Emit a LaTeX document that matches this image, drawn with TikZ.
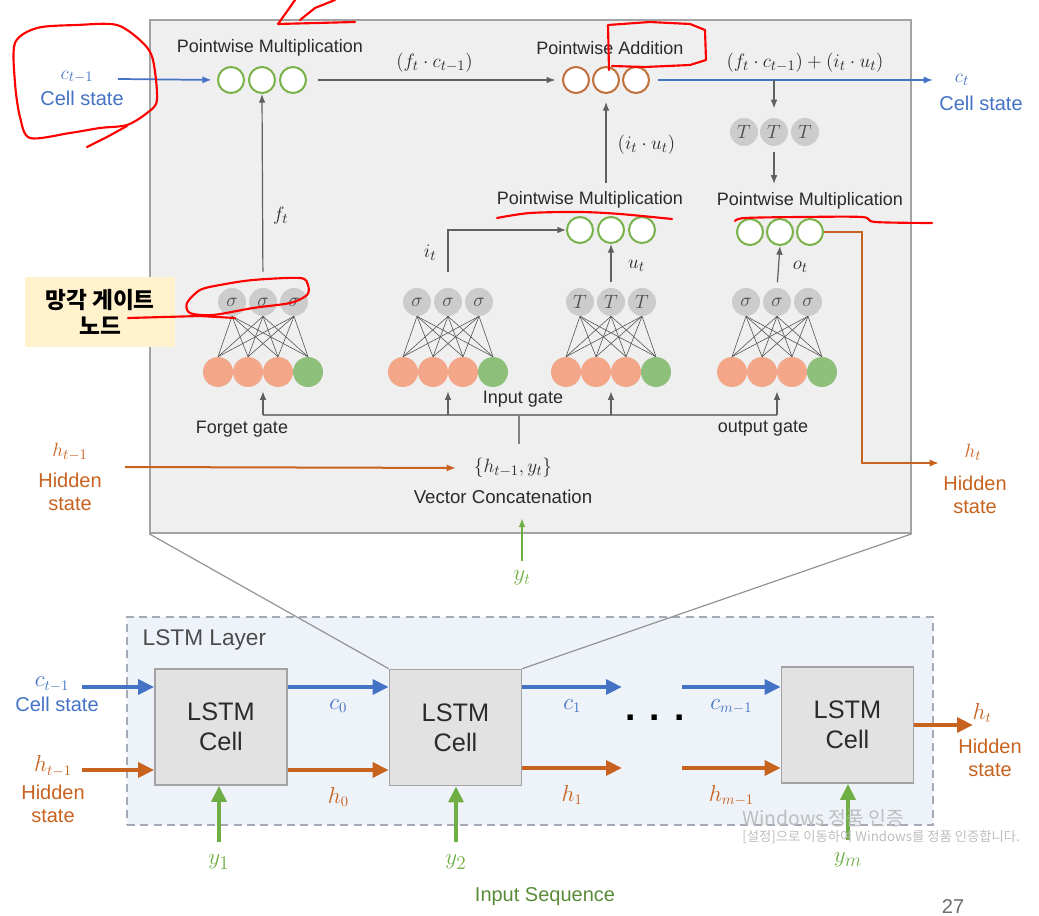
\documentclass[tikz,border=0pt]{standalone}
\usepackage{fontspec}
\setmainfont{Liberation Sans}
\newfontfamily\kofont{Noto Sans CJK KR}
\usetikzlibrary{arrows.meta,positioning,calc}
\definecolor{LstmBlue}{HTML}{4472C4}
\definecolor{LstmOrange}{HTML}{C8621F}
\definecolor{LstmGreen}{HTML}{6FAE45}
\definecolor{LstmRing}{HTML}{79B24A}
\definecolor{LstmAdd}{HTML}{C0703A}
\definecolor{LstmSalmon}{HTML}{F4A688}
\definecolor{LstmLeaf}{HTML}{8EC07C}
\definecolor{LstmNeuron}{HTML}{CCCCCC}
\definecolor{LstmPanel}{HTML}{EFEFEF}
\definecolor{LstmFrame}{HTML}{A3A3A3}
\definecolor{LstmDash}{HTML}{A4AAB6}
\definecolor{LstmLayer}{HTML}{EEF3FA}
\definecolor{LstmCellFill}{HTML}{E2E2E2}
\definecolor{LstmInk}{HTML}{2B2B2B}
\definecolor{LstmNote}{HTML}{FFF2CC}
\definecolor{LstmRed}{HTML}{FF0000}
\definecolor{LstmWater}{HTML}{BDBDBD}
\tikzset{
  lbl/.style={font=\fontsize{13.5}{16}\selectfont, text=LstmInk},
  mathlbl/.style={font=\fontsize{15}{17}\selectfont, text=LstmInk},
  bigmath/.style={font=\fontsize{16}{18}\selectfont},
  ylbl/.style={font=\fontsize{19}{21}\selectfont, text=LstmGreen},
  statelbl/.style={font=\fontsize{15}{17.5}\selectfont, align=center},
  ring/.style={circle, draw=LstmRing, line width=1.5pt, fill=white, minimum size=19.5pt, inner sep=0pt},
  addring/.style={ring, draw=LstmAdd},
  neuron/.style={circle, fill=LstmNeuron, minimum size=21pt, inner sep=0pt, font=\fontsize{14}{14}\selectfont, text=LstmInk!85},
  inunit/.style={circle, fill=LstmSalmon, minimum size=22.5pt, inner sep=0pt},
  biasunit/.style={inunit, fill=LstmLeaf},
  lstmcell/.style={draw=LstmFrame, line width=1.2pt, fill=LstmCellFill, minimum width=99pt, minimum height=87pt, align=center, font=\fontsize{19}{22.5}\selectfont, text=LstmInk},
  panelbox/.style={draw=LstmFrame, line width=1.2pt, fill=LstmPanel, inner sep=0pt},
  layerbox/.style={draw=LstmDash, dashed, dash pattern=on 6pt off 4pt, line width=1pt, fill=LstmLayer, inner sep=0pt},
  funnel/.style={draw=LstmFrame!90!black, line width=0.9pt},
  wire/.style={draw=LstmInk!80, line width=0.45pt},
  thinarrow/.style={-{Latex[length=6.5pt,width=5pt]}, line width=0.9pt, draw=LstmInk!75},
  busline/.style={line width=0.9pt, draw=LstmInk!60},
  bluethin/.style={-{Latex[length=7pt,width=5.5pt]}, line width=1.3pt, draw=LstmBlue},
  orangethin/.style={-{Latex[length=7pt,width=5.5pt]}, line width=1.5pt, draw=LstmOrange},
  greenthin/.style={-{Latex[length=7pt,width=5pt]}, line width=1.5pt, draw=LstmGreen},
  fatarrow/.style={-{Triangle[length=12pt,width=11pt]}, line width=3.6pt},
  redpen/.style={draw=LstmRed, line width=1.6pt, line cap=round, line join=round},
  notebox/.style={fill=LstmNote, minimum width=113pt, minimum height=52pt, align=center, font=\kofont\bfseries\fontsize{17}{20}\selectfont, text=black},
  watermark/.style={text=LstmWater, anchor=west, inner sep=0pt}
}

\begin{document}
\begin{tikzpicture}[x=0.75pt, y=-0.75pt, every node/.style={lbl}]
\useasboundingbox (0,0) rectangle (1039,916);
\node[layerbox, minimum width=604.5pt, minimum height=156pt] (layer) at (530,721) {};
\node[font=\fontsize{17}{20}\selectfont, anchor=west, text=LstmInk!85] (layername) at (138,640) {LSTM Layer};
\node[lstmcell] (cellA) at (221,727) {LSTM\\Cell};
\node[lstmcell] (cellB) at (455.5,727.5) {LSTM\\Cell};
\node[lstmcell] (cellM) at (847.5,725) {LSTM\\Cell};
\node[panelbox, minimum width=570.75pt, minimum height=384.75pt] (zoom) at (530.5,276.5) {};
\draw[funnel] (zoom.south west) -- (cellB.north west) (zoom.south east) -- (cellB.north east);

\node[bigmath, text=LstmBlue] (cprevB) at (52,684) {$c_{t-1}$};
\node[statelbl, text=LstmBlue] (cprevBname) at (57,704) {Cell state};
\node[bigmath, text=LstmOrange] (hprevB) at (53,766) {$h_{t-1}$};
\node[statelbl, text=LstmOrange] (hprevBname) at (53,804) {Hidden\\state};
\coordinate (cinA) at (82,687);
\coordinate (hinA) at (82,770);
\coordinate (cgap) at (622,687);
\coordinate (cgo) at (682,687);
\coordinate (hgap) at (622,768);
\coordinate (hgo) at (682,768);
\coordinate (houtB) at (973,725);
\draw[fatarrow, LstmBlue] (cinA) -- (cinA -| cellA.west);
\draw[fatarrow, LstmOrange] (hinA) -- (hinA -| cellA.west);
\draw[fatarrow, LstmBlue] (cellA.east |- cinA) -- (cellB.west |- cinA) node[midway, below=4pt, bigmath, text=LstmBlue] (czero) {$c_0$};
\draw[fatarrow, LstmOrange] (cellA.east |- hinA) -- (cellB.west |- hinA) node[midway, below=8pt, bigmath, text=LstmOrange] (hzero) {$h_0$};
\draw[fatarrow, LstmBlue] (cellB.east |- cinA) -- (cgap) node[midway, below=4pt, bigmath, text=LstmBlue] (cone) {$c_1$};
\draw[fatarrow, LstmOrange] (cellB.east |- hgap) -- (hgap) node[midway, below=8pt, bigmath, text=LstmOrange] (hone) {$h_1$};
\draw[fatarrow, LstmBlue] (cgo) -- (cgo -| cellM.west) node[midway, below=4pt, bigmath, text=LstmBlue] (cmlast) {$c_{m-1}$};
\draw[fatarrow, LstmOrange] (hgo) -- (hgo -| cellM.west) node[midway, below=8pt, bigmath, text=LstmOrange] (hmlast) {$h_{m-1}$};
\node[font=\fontsize{28}{28}\selectfont\bfseries, text=black] (dots) at (655,718) {. . .};
\draw[fatarrow, LstmOrange] (cellM.east) -- (houtB);
\node[bigmath, text=LstmOrange] (htB) at (982,713) {$h_t$};
\node[statelbl, text=LstmOrange] (htBname) at (990,758) {Hidden\\state};
\node[ylbl] (yone) at (219,862) {$y_1$};
\node[ylbl] (ytwo) at (456,862) {$y_2$};
\node[ylbl] (ylast) at (848,860) {$y_m$};
\draw[fatarrow, LstmGreen] ([yshift=6pt]yone.north) -- (yone.north |- cellA.south);
\draw[fatarrow, LstmGreen] ([yshift=6pt]ytwo.north) -- (ytwo.north |- cellB.south);
\draw[fatarrow, LstmGreen] ([yshift=6pt]ylast.north) -- (ylast.north |- cellM.south);
\node[statelbl, text=LstmGreen!80!black] (inseq) at (545,897) {Input Sequence};

\foreach \k/\x in {1/231,2/262,3/293} \node[ring] (fm\k) at (\x,80) {};
\foreach \k/\x in {1/576,2/606,3/636} \node[addring] (ad\k) at (\x,80) {};
\foreach \k/\x in {1/580,2/611,3/642} \node[ring] (im\k) at (\x,230) {};
\foreach \k/\x in {1/750,2/780,3/810} \node[ring] (om\k) at (\x,232) {};
\foreach \k/\x in {1/744,2/774,3/805} \node[neuron] (th\k) at (\x,132) {$T$};
\node (fmname) at (270,48) {Pointwise Multiplication};
\node (adname) at (610,48) {Pointwise Addition};
\node (imname) at (590,200) {Pointwise Multiplication};
\node (omname) at (810,201) {Pointwise Multiplication};

\foreach \g/\cx/\sym in {fg/263/\sigma, ig/448/\sigma, ug/611/T, og/777/\sigma} {
  \foreach \k in {1,2,3} \node[neuron] (\g-h\k) at (\cx-62+31*\k,302) {$\sym$};
  \foreach \k in {1,2,3} \node[inunit] (\g-x\k) at (\cx-75+30*\k,372) {};
  \node[biasunit] (\g-x4) at (\cx+45,372) {};
  \foreach \k in {1,2,3} \foreach \j in {1,...,4} \draw[wire] (\g-h\k.south) -- (\g-x\j.north);
}
\node (fgname) at (242,429) {Forget gate};
\node (igname) at (523,399) {Input gate};
\node (ogname) at (763,429) {output gate};

\node[mathlbl, text=LstmBlue] (ctopin) at (77,77) {$c_{t-1}$};
\node[statelbl, text=LstmBlue] (ctopname) at (82,98) {Cell state};
\coordinate (ctopstart) at (118,79);
\coordinate (ctopout) at (933,80);
\draw[bluethin, shorten >=4pt] (ctopstart) -- (fm1.west);
\draw[thinarrow, shorten <=8pt, shorten >=5pt] (fm3.east) -- (ad1.west) node[midway, above=2pt, mathlbl] (fcprod) {$(f_t\cdot c_{t-1})$};
\draw[bluethin, shorten <=6pt] (ad3.east) -- (ctopout);
\node[mathlbl] (cellsum) at (805,63) {$(f_t\cdot c_{t-1})+(i_t\cdot u_t)$};
\node[mathlbl, text=LstmBlue] (ctout) at (962,80) {$c_t$};
\node[statelbl, text=LstmBlue] (ctoutname) at (981,103) {Cell state};
\draw[thinarrow, shorten >=7pt] (th2 |- ad3) -- (th2.north);
\draw[thinarrow, shorten <=4pt, shorten >=3pt] (th2.south) -- (th2.south |- omname.north);
\draw[thinarrow, shorten <=12pt] (fg-h2.north) -- (fm2.south) node[pos=0.37, right=4pt, mathlbl] (ftlbl) {$f_t$};
\draw[thinarrow, shorten <=12pt] (ig-h2.north) |- (im1.west) node[pos=0.3, left=5pt, mathlbl] (itlbl) {$i_t$};
\draw[thinarrow, shorten <=4pt] (ug-h2.north) -- (im2.south) node[midway, right=9pt, mathlbl] (utlbl) {$u_t$};
\draw[thinarrow, shorten <=4pt] (og-h2.north) -- (om2.south) node[midway, right=7pt, mathlbl] (otlbl) {$o_t$};
\draw[thinarrow, shorten <=3pt, shorten >=6pt] (imname.north -| ad2) -- (ad2.south) node[pos=0.45, right=5pt, mathlbl] (iuprod) {$(i_t\cdot u_t)$};

\coordinate (htopout) at (939,463);
\draw[orangethin] (om3.east) -- ++(38,0) |- (htopout);
\node[mathlbl, text=LstmOrange] (httop) at (973,452) {$h_t$};
\node[statelbl, text=LstmOrange] (httopname) at (975,495) {Hidden\\state};

\coordinate (bus) at (519,415);
\node[mathlbl] (concat) at (513,468) {$\{h_{t-1},y_t\}$};
\node[font=\fontsize{14}{16}\selectfont, text=LstmInk] (vcname) at (503,497) {Vector Concatenation};
\draw[busline] (fg-h2 |- bus) -- (og-h2 |- bus);
\draw[busline, shorten <=7pt] (bus |- concat.north) -- (bus);
\foreach \g in {fg,ig,ug,og} \draw[thinarrow, shorten >=3pt] (\g-h2 |- bus) -- (\g-h2 |- \g-x2.south);
\node[mathlbl, text=LstmOrange] (hprevT) at (70,452) {$h_{t-1}$};
\node[statelbl, text=LstmOrange] (hprevTname) at (70,492) {Hidden\\state};
\coordinate (hstart) at (125,467);
\draw[orangethin, shorten >=10pt] (hstart) -- (concat.west);
\node[font=\fontsize{18}{20}\selectfont, text=LstmGreen] (ytop) at (522,578) {$y_t$};
\draw[greenthin, shorten <=4pt, shorten >=7pt] (ytop.north) -- (ytop.north |- vcname.south);

\node[notebox] (note) at (100,312) {망각 게이트\\노드};

\draw[redpen] plot[smooth cycle] coordinates {(15,43) (37,28) (77,25) (117,25) (143,43) (153,60) (157,100) (147,113) (127,125) (100,128) (70,133) (30,138) (20,117) (15,83)};
\draw[redpen] (87,147) -- (107,137) -- (127,126);
\draw[redpen] (278,24) -- (288,10) -- (295,0) (300,20) -- (315,8) -- (335,0) (278,24) -- (355,22);
\draw[redpen] (609,70) -- (608,25) -- (650,22) -- (690,24) -- (705,30) -- (706,60) -- (690,65) -- (645,67) -- (612,66);
\draw[redpen] plot[smooth] coordinates {(497,218) (530,213) (580,212) (620,214) (672,219)};
\draw[redpen] plot[smooth] coordinates {(735,221) (745,218) (800,217) (862,217) (875,222) (932,223)};
\draw[redpen] plot[smooth cycle] coordinates {(187,303) (200,290) (220,285) (253,280) (300,278) (308,285) (307,295) (290,303) (253,308) (213,315) (190,313)};
\draw[redpen] (128,318) -- (200,316) -- (235,318);

\node[watermark, font=\kofont\fontsize{14.5}{16}\selectfont] (winA) at (742,818) {Windows 정품 인증};
\node[watermark, font=\kofont\fontsize{10}{12}\selectfont] (winB) at (742,837) {[설정]으로 이동하여 Windows를 정품 인증합니다.};
\node[font=\fontsize{15}{17}\selectfont, text=LstmInk!70, anchor=south, inner sep=1pt] (pagenum) at (953,915) {27};
\end{tikzpicture}
\end{document}
